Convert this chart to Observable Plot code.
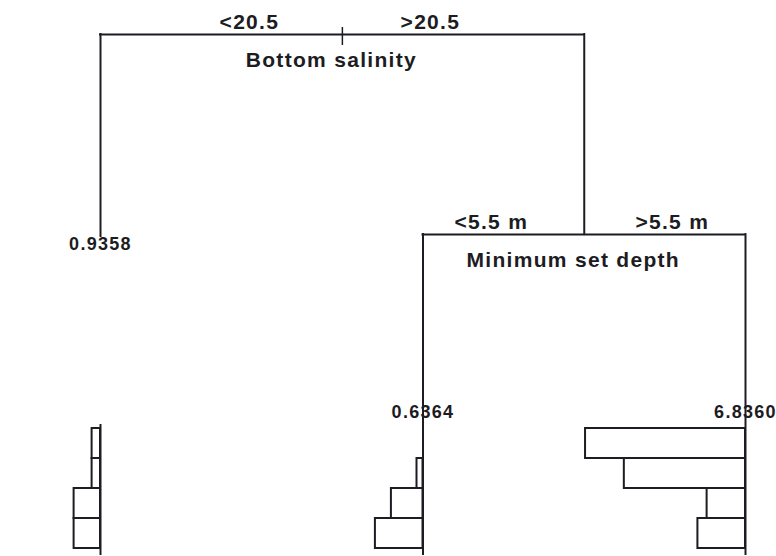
<!DOCTYPE html>
<html>
<head>
<meta charset="utf-8">
<script src="https://cdn.jsdelivr.net/npm/d3@7"></script>
<script src="https://cdn.jsdelivr.net/npm/@observablehq/plot@0.6"></script>
<style>
  html, body { margin: 0; padding: 0; background: #ffffff; }
  #chart { width: 776px; height: 556px; overflow: hidden; }
  #chart svg { display: block; letter-spacing: 1.3px; }
</style>
</head>
<body>
<div id="chart"></div>
<script>
// Terminal nodes of the regression tree, left to right
const leafNames = ["salinity < 20.5", "salinity > 20.5, depth < 5.5 m", "salinity > 20.5, depth > 5.5 m"];
const leafValues = [0.9358, 0.6364, 6.8360];
const leafHeights = [0.482, 0, 0];          // node height on the deviance axis

// Splits: root first, then the split on the right branch
const splitVars = ["Bottom salinity", "Minimum set depth"];
const splitLeft = ["<20.5", "<5.5 m"];
const splitRight = [">20.5", ">5.5 m"];
const splitHeights = [1, 0.487];

// Mean of each of the four response variables at each leaf
const responseVars = ["r1", "r2", "r3", "r4"];
const leafMeans = [
  [0.21, 0.21, 0.66, 0.66],
  [0.00, 0.15, 0.79, 1.19],
  [4.00, 3.03, 0.96, 1.19]
];
const barScale = 0.124;   // leaf spacing per unit of mean

const ink = "#1c1c22";
const font = "Liberation Sans, Arial, sans-serif";

// Build the tree: leaves sit at 1, 2, 3; an inner node sits midway between its children
const leaves = leafNames.map((name, i) => ({name, value: leafValues[i], x: i + 1, h: leafHeights[i]}));
const split2 = {name: splitVars[1], left: splitLeft[1], right: splitRight[1], h: splitHeights[1], children: [leaves[1], leaves[2]]};
const root = {name: splitVars[0], left: splitLeft[0], right: splitRight[0], h: splitHeights[0], children: [leaves[0], split2]};
function place(node) {
  if (!node.children) return node.x;
  node.x = d3.mean(node.children, place);
  return node.x;
}
place(root);
const splits = [root, split2];
const links = splits.flatMap(p => p.children.map(c => ({x: c.x, h: c.h, ph: p.h})));

const xScale = {domain: [1, 3], range: [100, 745], axis: null};

const tree = Plot.plot({
  width: 776,
  height: 424,
  margin: 0,
  x: xScale,
  y: {domain: [0, 1], range: [424, 34], axis: null},
  style: {background: "transparent", color: ink},
  marks: [
    // horizontal bar joining the two children of each split
    Plot.ruleY(splits, {y: "h", x1: d => d.children[0].x, x2: d => d.children[1].x, stroke: ink, strokeWidth: 2, strokeLinecap: "square"}),
    // vertical branches down to each child
    Plot.ruleX(links, {x: "x", y1: "h", y2: "ph", stroke: ink, strokeWidth: 2, strokeLinecap: "square"}),
    // tick marking the root node
    Plot.ruleX([root], {x: "x", y1: "h", y2: "h", insetTop: -7, insetBottom: -11, stroke: ink, strokeWidth: 1.5}),
    // split variable and branch conditions
    Plot.text(splits, {x: "x", y: "h", text: "name", dy: 26, dx: -11, fontFamily: font, fontWeight: "bold", fontSize: 21, fill: ink}),
    Plot.text(splits, {x: "x", y: "h", text: "left", dy: -12.5, dx: -93, fontFamily: font, fontWeight: "bold", fontSize: 21, fill: ink}),
    Plot.text(splits, {x: "x", y: "h", text: "right", dy: -12.5, dx: 88, fontFamily: font, fontWeight: "bold", fontSize: 21, fill: ink}),
    // leaf values: below a raised leaf, above a leaf that runs into its bar chart
    Plot.text(leaves.filter(d => d.h > 0), {x: "x", y: "h", text: d => d.value.toFixed(4), dy: 8, fontFamily: font, fontWeight: "bold", fontSize: 18, fill: ink}),
    Plot.text(leaves.filter(d => d.h === 0), {x: "x", y: "h", text: d => d.value.toFixed(4), dy: -12, fontFamily: font, fontWeight: "bold", fontSize: 18, fill: ink})
  ]
});

// Bar charts of the response means under each leaf, bars growing leftward
const histData = leaves.flatMap((leaf, i) =>
  responseVars.map((v, j) => ({x: leaf.x, variable: v, mean: leafMeans[i][j]}))
);

const bars = Plot.plot({
  width: 776,
  height: 132,
  marginTop: 2,
  marginBottom: 7,
  marginLeft: 0,
  marginRight: 0,
  x: xScale,
  y: {type: "band", domain: responseVars, range: [2, 125], padding: 0, axis: null},
  style: {background: "transparent", color: ink},
  marks: [
    Plot.barX(histData, {x1: d => d.x - d.mean * barScale, x2: "x", y: "variable", fill: "white", stroke: ink, strokeWidth: 2}),
    Plot.ruleX(leaves, {x: "x", insetTop: -2, insetBottom: -6, stroke: ink, strokeWidth: 2})
  ]
});

const chart = document.getElementById("chart");
chart.append(tree, bars);
</script>
</body>
</html>
